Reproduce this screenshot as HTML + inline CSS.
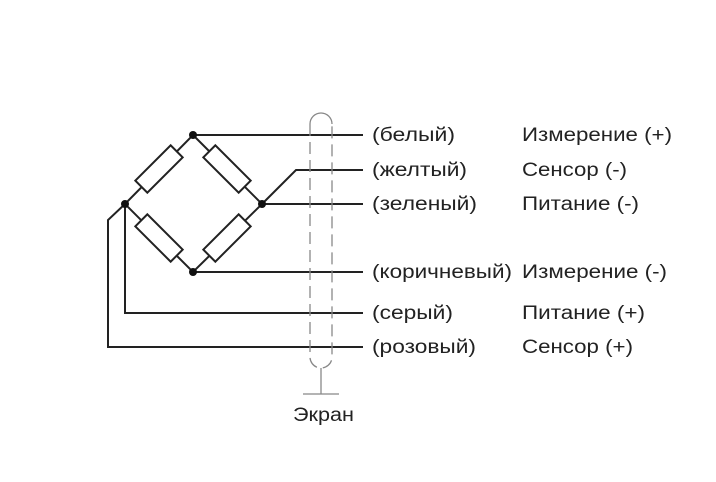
<!DOCTYPE html>
<html><head><meta charset="utf-8"><style>
body{margin:0;background:#fff;width:716px;height:477px;overflow:hidden}
text{font-family:"Liberation Sans",sans-serif;font-size:19px;fill:#222}
</style></head><body>
<svg width="716" height="477" viewBox="0 0 716 477">
<g stroke="#222" stroke-width="2" fill="none">
<line x1="193" y1="135" x2="363" y2="135"/>
<polyline points="262,204 296,170 363,170"/>
<line x1="262" y1="204" x2="363" y2="204"/>
<line x1="193" y1="272" x2="363" y2="272"/>
<polyline points="125,204 125,313 363,313"/>
<polyline points="125,204 108,220 108,347 363,347"/>
<polygon points="193,135 262,204 193,272 125,204"/>
</g>
<g fill="#fff" stroke="#222" stroke-width="2">
<rect x="-25" y="-8.5" width="50" height="17" transform="translate(159,169) rotate(-45)"/>
<rect x="-25" y="-8.5" width="50" height="17" transform="translate(227,169) rotate(45)"/>
<rect x="-25" y="-8.5" width="50" height="17" transform="translate(159,238) rotate(45)"/>
<rect x="-25" y="-8.5" width="50" height="17" transform="translate(227,238) rotate(-45)"/>
</g>
<g fill="#111"><circle cx="193" cy="135" r="4"/><circle cx="262" cy="204" r="4"/><circle cx="125" cy="204" r="4"/><circle cx="193" cy="272" r="4"/></g>
<g stroke="#888" stroke-width="1.3" fill="none">
<path d="M310,124 A11,11 0 0 1 332,124" />
<path d="M310,124 V357 A11,11 0 0 0 332,357 V124" stroke-dasharray="12,6"/>
<line x1="321" y1="368" x2="321" y2="394"/>
<line x1="303" y1="394" x2="339" y2="394"/>
</g>
<g lengthAdjust="spacingAndGlyphs">
<text x="293" y="421" textLength="61" lengthAdjust="spacingAndGlyphs">Экран</text>
<text x="372" y="141" textLength="83" lengthAdjust="spacingAndGlyphs">(белый)</text><text x="522" y="141" textLength="150" lengthAdjust="spacingAndGlyphs">Измерение (+)</text>
<text x="372" y="176" textLength="95" lengthAdjust="spacingAndGlyphs">(желтый)</text><text x="522" y="176" textLength="105" lengthAdjust="spacingAndGlyphs">Сенсор (-)</text>
<text x="372" y="210" textLength="105" lengthAdjust="spacingAndGlyphs">(зеленый)</text><text x="522" y="210" textLength="117" lengthAdjust="spacingAndGlyphs">Питание (-)</text>
<text x="372" y="278" textLength="140" lengthAdjust="spacingAndGlyphs">(коричневый)</text><text x="522" y="278" textLength="145" lengthAdjust="spacingAndGlyphs">Измерение (-)</text>
<text x="372" y="319" textLength="81" lengthAdjust="spacingAndGlyphs">(серый)</text><text x="522" y="319" textLength="123" lengthAdjust="spacingAndGlyphs">Питание (+)</text>
<text x="372" y="353" textLength="104" lengthAdjust="spacingAndGlyphs">(розовый)</text><text x="522" y="353" textLength="111" lengthAdjust="spacingAndGlyphs">Сенсор (+)</text>
</g>
</svg>
</body></html>
